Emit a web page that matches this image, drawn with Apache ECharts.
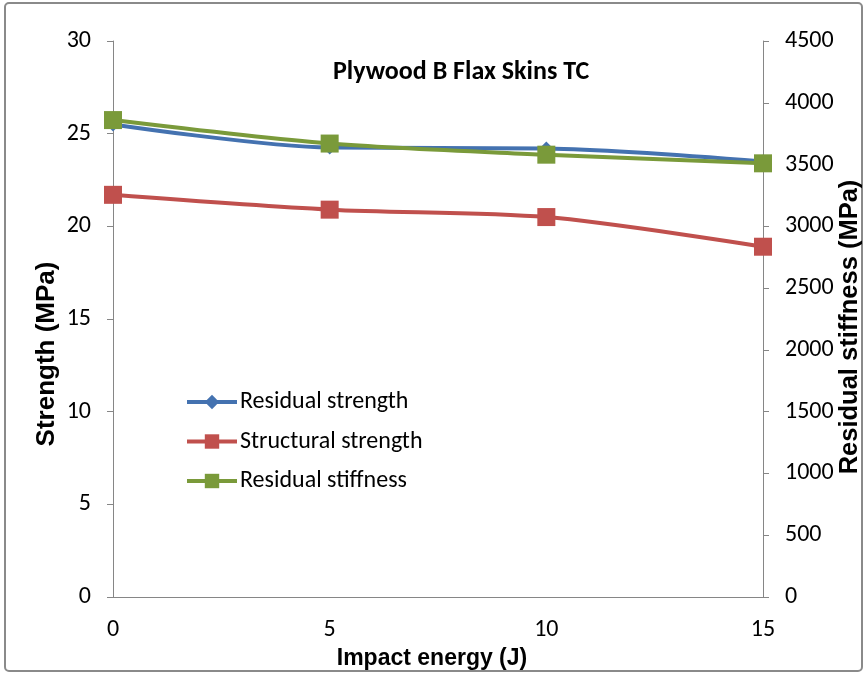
<!DOCTYPE html>
<html>
<head>
<meta charset="utf-8">
<script src="https://cdn.jsdelivr.net/npm/echarts@6/dist/echarts.min.js"></script>
<style>
  html, body { margin: 0; padding: 0; background: #fff; }
  #chart { width: 866px; height: 675px; }
</style>
</head>
<body>
<div id="chart"></div>
<script>
    var energy = [0, 5, 10, 15];
    var residualStrength = [25.5, 24.25, 24.2, 23.5];
    var structuralStrength = [21.7, 20.9, 20.5, 18.9];
    var residualStiffness = [3860, 3670, 3580, 3510];

    function pairs(xs, ys) {
        var out = [];
        for (var i = 0; i < xs.length; i++) {
            out.push([xs[i], ys[i]]);
        }
        return out;
    }

    var font = '"Liberation Sans Narrow", "Liberation Sans", Arial, sans-serif';
    var labelFont = 'Carlito, "Open Sans", "Liberation Sans", sans-serif';
    var axisColor = '#868686';
    var plain = function (v) { return String(v); };

    var chart = echarts.init(document.getElementById('chart'));

    var option = {
        animation: false,
        backgroundColor: '#fff',
        title: {
            text: 'Plywood B Flax Skins TC',
            left: 333,
            top: 59,
            padding: 0,
            textStyle: { fontFamily: labelFont, fontSize: 26, fontWeight: 'bold', color: '#000' }
        },
        legend: {
            orient: 'vertical',
            left: 185,
            top: 390,
            padding: 0,
            itemWidth: 50,
            itemHeight: 18,
            itemGap: 15.5,
            lineStyle: { width: 4 },
            textStyle: { fontFamily: labelFont, fontSize: 24, color: '#000', padding: [0, 0, 0, -2] },
            data: ['Residual strength', 'Structural strength', 'Residual stiffness']
        },
        graphic: [{
            type: 'rect',
            shape: { x: 5, y: 3, width: 857, height: 668, r: 4 },
            style: { fill: 'none', stroke: '#8a8a8a', lineWidth: 2 },
            silent: true
        }],
        grid: { left: 113, right: 103, top: 41, bottom: 78, outerBoundsMode: 'none' },
        xAxis: {
            type: 'value',
            min: 0,
            max: 15,
            interval: 5,
            name: 'Impact energy (J)',
            nameLocation: 'middle',
            nameGap: 49,
            nameTextStyle: { fontFamily: font, fontSize: 23, fontWeight: 'bold', color: '#000', padding: [0, 12, 0, 0] },
            axisLine: { lineStyle: { color: axisColor } },
            axisTick: { show: false },
            splitLine: { show: false },
            axisLabel: { margin: 21, fontFamily: labelFont, fontSize: 24, color: '#000' }
        },
        yAxis: [{
            type: 'value',
            min: 0,
            max: 30,
            interval: 5,
            name: 'Strength (MPa)',
            nameLocation: 'middle',
            nameRotate: 90,
            nameGap: 53,
            nameMoveOverlap: false,
            nameTextStyle: { fontFamily: font, fontSize: 26, fontWeight: 'bold', color: '#000', padding: [0, 70, 0, 0] },
            axisLine: { show: true, lineStyle: { color: axisColor } },
            axisTick: { show: true, length: 6, lineStyle: { color: axisColor } },
            splitLine: { show: false },
            axisLabel: { margin: 22, fontFamily: labelFont, fontSize: 24, color: '#000', formatter: plain }
        }, {
            type: 'value',
            min: 0,
            max: 4500,
            interval: 500,
            position: 'right',
            name: 'Residual stiffness (MPa)',
            nameLocation: 'middle',
            nameRotate: 90,
            nameGap: 74,
            nameMoveOverlap: false,
            nameTextStyle: { fontFamily: font, fontSize: 25.5, fontWeight: 'bold', color: '#000', padding: [0, 16, 0, 0] },
            axisLine: { show: true, lineStyle: { color: axisColor } },
            axisTick: { show: true, length: 6, lineStyle: { color: axisColor } },
            splitLine: { show: false },
            axisLabel: { margin: 22, fontFamily: labelFont, fontSize: 24, color: '#000', formatter: plain }
        }],
        series: [{
            name: 'Residual strength',
            type: 'line',
            yAxisIndex: 0,
            smooth: 0.3,
            symbol: 'diamond',
            symbolSize: 14,
            itemStyle: { color: '#4472B0' },
            lineStyle: { color: '#4472B0', width: 4 },
            data: pairs(energy, residualStrength)
        }, {
            name: 'Structural strength',
            type: 'line',
            yAxisIndex: 0,
            smooth: 0.3,
            symbol: 'rect',
            symbolSize: 18,
            itemStyle: { color: '#C0504D' },
            lineStyle: { color: '#C0504D', width: 4 },
            data: pairs(energy, structuralStrength)
        }, {
            name: 'Residual stiffness',
            type: 'line',
            yAxisIndex: 1,
            smooth: 0.3,
            symbol: 'rect',
            symbolSize: 18,
            itemStyle: { color: '#7A9A3A' },
            lineStyle: { color: '#7A9A3A', width: 4 },
            data: pairs(energy, residualStiffness)
        }]
    };

    chart.setOption(option);
</script>
</body>
</html>
